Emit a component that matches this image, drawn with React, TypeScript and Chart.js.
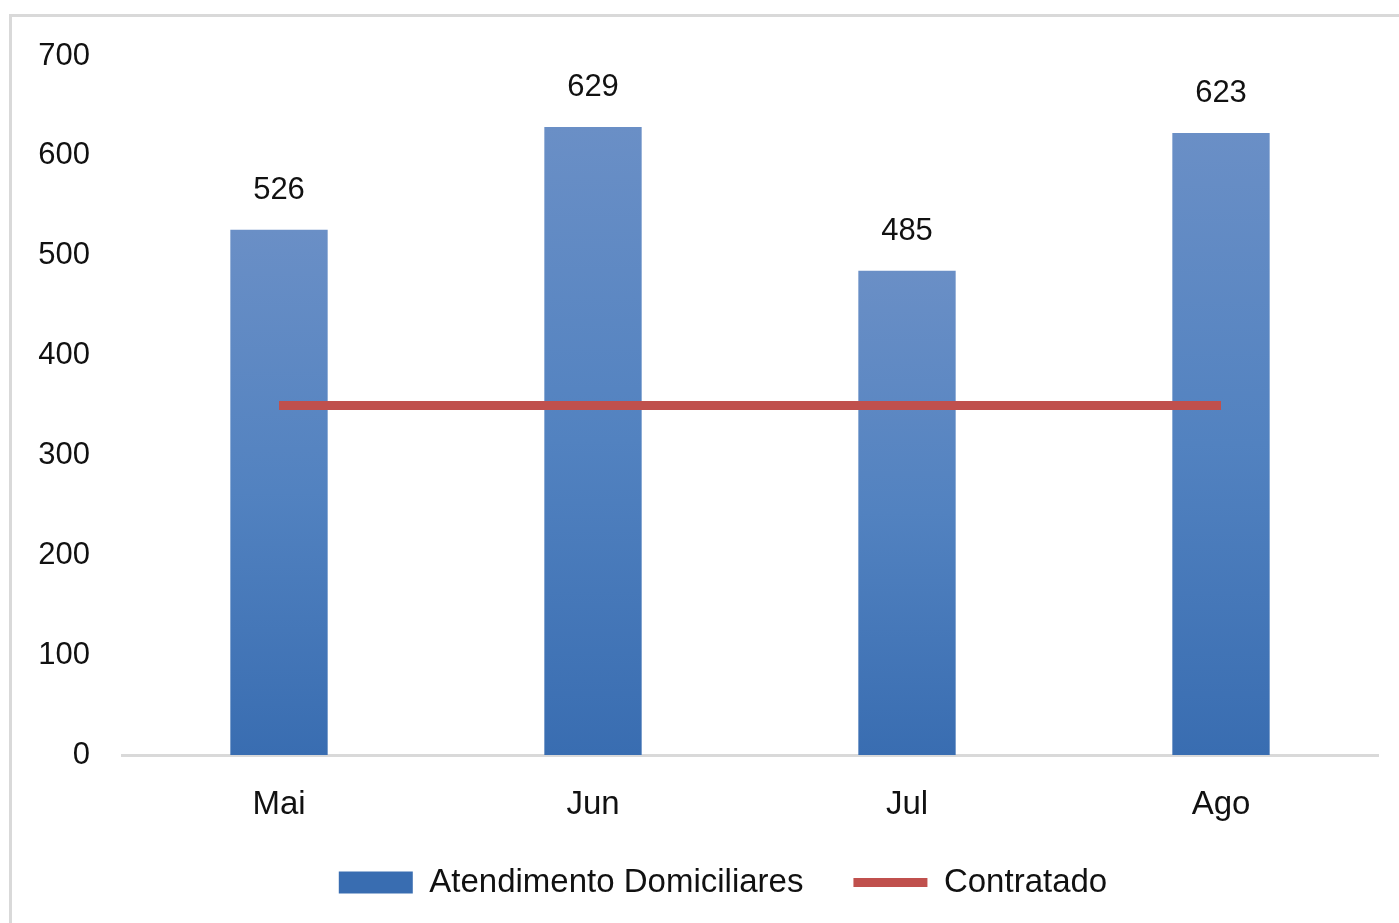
import React, { useEffect, useRef } from "react";
import { Chart, registerables } from "chart.js";

Chart.register(...registerables);

const categories = ["Mai", "Jun", "Jul", "Ago"];
const atendimentos = [526, 629, 485, 623];
const contratado = [350, 350, 350, 350];
const yTicks = [0, 100, 200, 300, 400, 500, 600, 700];

const FONT = "'Liberation Sans', Arial, sans-serif";

export default function App() {
  const ref = useRef<HTMLCanvasElement | null>(null);

  useEffect(() => {
    document.body.style.margin = "0";
    document.body.style.overflow = "hidden";
    const canvas = ref.current;
    if (!canvas) return;

    const barLabels = {
      id: "barLabels",
      afterDatasetsDraw(chart: any) {
        const ctx = chart.ctx;
        const meta = chart.getDatasetMeta(1);
        ctx.save();
        ctx.font = `31px ${FONT}`;
        ctx.fillStyle = "#111";
        ctx.textAlign = "center";
        ctx.textBaseline = "middle";
        meta.data.forEach((el: any, i: number) => {
          ctx.fillText(String(atendimentos[i]), el.x, el.y - 39);
        });
        ctx.restore();
      },
    };

    const legendShift = {
      id: "legendShift",
      afterLayout(chart: any) {
        const lg = chart.legend;
        if (lg) {
          lg.left += 34;
          lg.right += 34;
          lg.top -= 12;
          lg.bottom -= 12;
        }
      },
    };

    const chart = new Chart(canvas, {
      data: {
        labels: categories,
        datasets: [
          {
            type: "line",
            label: "Contratado",
            data: contratado,
            borderColor: "#c0504d",
            backgroundColor: "#c0504d",
            borderWidth: 9,
            pointRadius: 0,
            pointHoverRadius: 0,
            order: 0,
            pointStyle: "line",
          } as any,
          {
            type: "bar",
            label: "Atendimento Domiciliares",
            data: atendimentos,
            backgroundColor: (c: any) => {
              const chart = c.chart;
              const area = chart.chartArea;
              if (!area || c.parsed == null) return "#4f81bd";
              const ys = chart.scales.y;
              const top = ys.getPixelForValue(c.parsed.y);
              const bottom = ys.getPixelForValue(0);
              const g = chart.ctx.createLinearGradient(0, top, 0, bottom);
              g.addColorStop(0, "#6a8fc6");
              g.addColorStop(0.5, "#5282c0");
              g.addColorStop(1, "#396db1");
              return g;
            },
            borderWidth: 0,
            barPercentage: 0.31,
            categoryPercentage: 1,
            order: 1,
            pointStyle: "rect",
          } as any,
        ],
      },
      options: {
        animation: false,
        responsive: false,
        maintainAspectRatio: false,
        layout: { padding: { top: 56, right: 21, left: 0, bottom: 2 } },
        plugins: {
          tooltip: { enabled: false },
          legend: {
            position: "bottom",
            reverse: true,
            labels: {
              usePointStyle: true,
              pointStyleWidth: 74,
              boxHeight: 22,
              padding: 50,
              color: "#111",
              font: { family: FONT, size: 33 },
            },
          },
        },
        scales: {
          x: {
            grid: { display: false },
            border: { display: true, color: "#d9d9d9", width: 3 },
            ticks: {
              color: "#111",
              font: { family: FONT, size: 33 },
              padding: 22,
            },
            afterFit: (s: any) => {
              s.height = 73;
            },
          },
          y: {
            min: 0,
            max: 700,
            afterBuildTicks: (s: any) => {
              s.ticks = yTicks.map((v) => ({ value: v }));
            },
            grid: { display: false, drawTicks: false },
            border: { display: false },
            ticks: {
              color: "#111",
              font: { family: FONT, size: 31 },
              padding: 32,
            },
            afterFit: (s: any) => {
              s.width = 122;
            },
          },
        },
      } as any,
      plugins: [barLabels, legendShift],
    });

    return () => chart.destroy();
  }, []);

  return (
    <div style={{ position: "relative", width: 1399, height: 923, overflow: "hidden", background: "#fff" }}>
      <div
        style={{
          position: "absolute",
          left: 9,
          top: 14,
          width: 1500,
          height: 1000,
          borderTop: "3px solid #d9d9d9",
          borderLeft: "3px solid #d9d9d9",
        }}
      />
      <canvas ref={ref} width={1399} height={923} style={{ position: "absolute", left: 0, top: 0 }} />
    </div>
  );
}
